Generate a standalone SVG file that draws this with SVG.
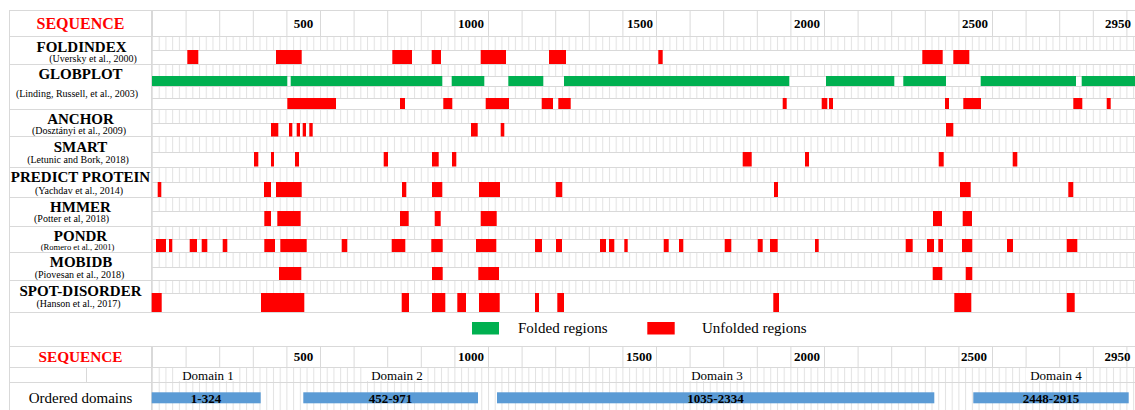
<svg xmlns="http://www.w3.org/2000/svg" width="1135" height="410" viewBox="0 0 1135 410">
<defs>
<style>
.ln{stroke:#d9d9d9;stroke-width:1;fill:none}
.r{fill:#ff0000}
.gr{fill:#00b050}
.b{fill:#5b9bd5}
.w{fill:#ffffff}
text{font-family:"Liberation Serif","Times New Roman",serif;fill:#000}
.h{font-weight:bold;font-size:15px;text-anchor:middle}
.s{font-size:10px;text-anchor:middle}
.n{font-weight:bold;font-size:13px;text-anchor:middle}
.seq{font-weight:bold;font-size:16px;fill:#ff0000;text-anchor:middle}
.dm{font-size:13px;text-anchor:middle}
.lg{font-size:15px}
</style>
<pattern id="sub" x="152" y="0" width="6.72" height="20" patternUnits="userSpaceOnUse">
<rect x="0" y="0" width="1" height="20" fill="#e2e2e2"/>
</pattern>
<pattern id="maj" x="152" y="0" width="33.6" height="20" patternUnits="userSpaceOnUse">
<rect x="0" y="0" width="1" height="20" fill="#d9d9d9"/>
</pattern>
</defs>
<rect x="0" y="0" width="1135" height="410" fill="#ffffff"/>

<g id="grid">
<rect x="152" y="36" width="983" height="276" fill="url(#sub)"/>
<rect x="152" y="10" width="983" height="26" fill="url(#maj)"/>
<rect x="152" y="346" width="983" height="21" fill="url(#maj)"/>
<rect x="152" y="367" width="983" height="43" fill="url(#sub)"/>
<g class="w">
<rect x="153" y="51" width="982" height="13"/>
<rect x="153" y="77" width="982" height="9"/>
<rect x="153" y="99" width="982" height="10"/>
<rect x="153" y="124" width="982" height="12"/>
<rect x="153" y="153" width="982" height="14"/>
<rect x="153" y="183" width="982" height="14"/>
<rect x="153" y="212" width="982" height="14"/>
<rect x="153" y="240" width="982" height="12"/>
<rect x="153" y="268" width="982" height="12"/>
<rect x="153" y="294" width="982" height="18"/>
<rect x="178" y="368" width="60" height="13"/>
<rect x="367" y="368" width="60" height="13"/>
<rect x="687" y="368" width="60" height="13"/>
<rect x="1026" y="368" width="60" height="13"/>
</g>
<path class="ln" d="M9 10.5H1135M9 36.5H1135M152 50.5H1135M9 64.5H1135M152 76.5H1135M152 86.5H1135M152 98.5H1135M9 109.5H1135M152 123.5H1135M9 136.5H1135M152 152.5H1135M9 167.5H1135M152 182.5H1135M9 197.5H1135M152 211.5H1135M9 226.5H1135M152 239.5H1135M9 252.5H1135M152 267.5H1135M9 280.5H1135M152 293.5H1135M9 312.5H1135M9 346.5H1135M9 367.5H1135M9 382.5H1135"/>
<path class="ln" d="M9.5 10V410M151.5 10V312M151.5 346V410M86.5 367V382"/>
</g>

<g id="header-top">
<text class="seq" x="80.5" y="29">SEQUENCE</text>
<text class="n" x="303.5" y="28">500</text>
<text class="n" x="471" y="28">1000</text>
<text class="n" x="640" y="28">1500</text>
<text class="n" x="807" y="28">2000</text>
<text class="n" x="975" y="28">2500</text>
<text class="n" x="1118" y="28">2950</text>
</g>

<g id="foldindex">
<text class="h" x="81.5" y="51.5">FOLDINDEX</text>
<text class="s" x="93" y="62">(Uversky et al., 2000)</text>
<g class="r">
<rect x="187.3" y="50" width="11" height="14"/><rect x="276" y="50" width="25.7" height="14"/><rect x="392.3" y="50" width="19.7" height="14"/><rect x="431.7" y="50" width="9.3" height="14"/><rect x="480.7" y="50" width="25.3" height="14"/><rect x="549" y="50" width="17" height="14"/><rect x="658.3" y="50" width="4.4" height="14"/><rect x="922.3" y="50" width="20.4" height="14"/><rect x="953.3" y="50" width="16" height="14"/>
</g>
</g>

<g id="globplot">
<text class="h" x="80.5" y="79.3">GLOBPLOT</text>
<text class="s" x="77" y="96.7">(Linding,  Russell, et al., 2003)</text>
<g class="gr">
<rect x="152" y="76" width="135.3" height="10"/><rect x="290.7" y="76" width="151.6" height="10"/><rect x="451.7" y="76" width="32.6" height="10"/><rect x="508.3" y="76" width="35" height="10"/><rect x="564" y="76" width="225.3" height="10"/><rect x="826" y="76" width="68.3" height="10"/><rect x="903.3" y="76" width="42.7" height="10"/><rect x="980.7" y="76" width="95.3" height="10"/><rect x="1081.7" y="76" width="53.3" height="10"/>
</g>
<g class="r">
<rect x="287.3" y="98" width="48.7" height="11"/><rect x="400" y="98" width="5" height="11"/><rect x="443.3" y="98" width="9" height="11"/><rect x="485.7" y="98" width="23.3" height="11"/><rect x="541.7" y="98" width="11.3" height="11"/><rect x="558.3" y="98" width="12.4" height="11"/><rect x="782.7" y="98" width="4" height="11"/><rect x="821.7" y="98" width="5.6" height="11"/><rect x="829" y="98" width="4" height="11"/><rect x="945" y="98" width="4" height="11"/><rect x="963.3" y="98" width="17.7" height="11"/><rect x="1073.3" y="98" width="9" height="11"/><rect x="1106.7" y="98" width="4" height="11"/>
</g>
</g>

<g id="anchor">
<text class="h" x="80.5" y="123.7">ANCHOR</text>
<text class="s" x="79" y="134.3">(Dosztányi et al., 2009)</text>
<g class="r">
<rect x="271" y="123" width="7.3" height="13.5"/><rect x="289" y="123" width="3.3" height="13.5"/><rect x="296.7" y="123" width="3.3" height="13.5"/><rect x="302.7" y="123" width="3.3" height="13.5"/><rect x="309.3" y="123" width="3.4" height="13.5"/><rect x="471" y="123" width="6.7" height="13.5"/><rect x="500.7" y="123" width="3.6" height="13.5"/><rect x="946" y="123" width="7.3" height="13.5"/>
</g>
</g>

<g id="smart">
<text class="h" x="80.5" y="151.5">SMART</text>
<text class="s" x="78" y="163.3">(Letunic  and Bork, 2018)</text>
<g class="r">
<rect x="254" y="152" width="4.3" height="14.5"/><rect x="271" y="152" width="3" height="14.5"/><rect x="295" y="152" width="4" height="14.5"/><rect x="383.7" y="152" width="4.3" height="14.5"/><rect x="432" y="152" width="6.7" height="14.5"/><rect x="452" y="152" width="4.3" height="14.5"/><rect x="742.7" y="152" width="9" height="14.5"/><rect x="805" y="152" width="4" height="14.5"/><rect x="938.7" y="152" width="5" height="14.5"/><rect x="1012.7" y="152" width="4.6" height="14.5"/>
</g>
</g>

<g id="predictprotein">
<text class="h" x="80.5" y="181.5">PREDICT PROTEIN</text>
<text class="s" x="79" y="193.6">(Yachdav et al., 2014)</text>
<g class="r">
<rect x="157.7" y="182" width="3.6" height="15"/><rect x="264" y="182" width="7" height="15"/><rect x="276" y="182" width="25.7" height="15"/><rect x="402" y="182" width="4.3" height="15"/><rect x="432" y="182" width="10.3" height="15"/><rect x="479" y="182" width="21" height="15"/><rect x="555.7" y="182" width="6.6" height="15"/><rect x="774" y="182" width="4" height="15"/><rect x="960" y="182" width="10.7" height="15"/><rect x="1068.3" y="182" width="5" height="15"/>
</g>
</g>

<g id="hmmer">
<text class="h" x="80.5" y="211.6">HMMER</text>
<text class="s" x="71.5" y="222.2">(Potter et al, 2018)</text>
<g class="r">
<rect x="264.3" y="211" width="6.7" height="15"/><rect x="277.3" y="211" width="23.4" height="15"/><rect x="400" y="211" width="8.7" height="15"/><rect x="434.7" y="211" width="6" height="15"/><rect x="480.7" y="211" width="16" height="15"/><rect x="933" y="211" width="9" height="15"/><rect x="962.7" y="211" width="9.3" height="15"/>
</g>
</g>

<g id="pondr">
<text class="h" x="80.5" y="240.6">PONDR</text>
<text class="s" x="77.5" y="249.6" style="font-size:8.6px">(Romero  et al., 2001)</text>
<g class="r">
<rect x="156" y="239" width="10" height="13"/><rect x="169" y="239" width="3.3" height="13"/><rect x="189.7" y="239" width="7.3" height="13"/><rect x="201.7" y="239" width="5.6" height="13"/><rect x="222.7" y="239" width="4.6" height="13"/><rect x="264.3" y="239" width="10.7" height="13"/><rect x="280.3" y="239" width="26.4" height="13"/><rect x="341.7" y="239" width="5.6" height="13"/><rect x="391.7" y="239" width="13.6" height="13"/><rect x="431.3" y="239" width="11.4" height="13"/><rect x="476" y="239" width="20.3" height="13"/><rect x="535" y="239" width="7" height="13"/><rect x="556" y="239" width="6" height="13"/><rect x="600" y="239" width="6" height="13"/><rect x="609" y="239" width="5.3" height="13"/><rect x="624.3" y="239" width="3.4" height="13"/><rect x="663.7" y="239" width="5" height="13"/><rect x="679" y="239" width="4.3" height="13"/><rect x="724.7" y="239" width="6.6" height="13"/><rect x="757.7" y="239" width="5" height="13"/><rect x="770" y="239" width="7.7" height="13"/><rect x="815" y="239" width="3.7" height="13"/><rect x="905.7" y="239" width="7" height="13"/><rect x="927" y="239" width="7" height="13"/><rect x="938.3" y="239" width="4.7" height="13"/><rect x="962" y="239" width="10.3" height="13"/><rect x="1007" y="239" width="6" height="13"/><rect x="1066.7" y="239" width="10.6" height="13"/>
</g>
</g>

<g id="mobidb">
<text class="h" x="81" y="267.3">MOBIDB</text>
<text class="s" x="79.5" y="277.8">(Piovesan et al., 2018)</text>
<g class="r">
<rect x="279" y="267" width="22.3" height="13"/><rect x="432" y="267" width="10.7" height="13"/><rect x="478.3" y="267" width="20.7" height="13"/><rect x="932.7" y="267" width="9.6" height="13"/><rect x="965.7" y="267" width="6.6" height="13"/>
</g>
</g>

<g id="spotdisorder">
<text class="h" x="80.5" y="295.5">SPOT-DISORDER</text>
<text class="s" x="78.5" y="306.9">(Hanson et al., 2017)</text>
<g class="r">
<rect x="151.7" y="293" width="10" height="19"/><rect x="261" y="293" width="43.3" height="19"/><rect x="401.7" y="293" width="7.3" height="19"/><rect x="432" y="293" width="13.3" height="19"/><rect x="457.3" y="293" width="8.7" height="19"/><rect x="479" y="293" width="20.7" height="19"/><rect x="535" y="293" width="4" height="19"/><rect x="557.3" y="293" width="6.7" height="19"/><rect x="773.3" y="293" width="5.7" height="19"/><rect x="954.3" y="293" width="17" height="19"/><rect x="1066.7" y="293" width="8" height="19"/>
</g>
</g>

<g id="legend">
<rect class="gr" x="472" y="322" width="27" height="12.5"/>
<text class="lg" x="518" y="333.3">Folded regions</text>
<rect class="r" x="647.3" y="322" width="27.4" height="12.5"/>
<text class="lg" x="702" y="333.3">Unfolded regions</text>
</g>

<g id="header-bottom">
<text class="seq" x="80.5" y="361.7" style="font-size:15.3px">SEQUENCE</text>
<text class="n" x="303.5" y="361">500</text>
<text class="n" x="471" y="361">1000</text>
<text class="n" x="639" y="361">1500</text>
<text class="n" x="807" y="361">2000</text>
<text class="n" x="974" y="361">2500</text>
<text class="n" x="1117.5" y="361">2950</text>
</g>

<g id="ordered-domains">
<text class="lg" x="80.5" y="403.3" style="text-anchor:middle">Ordered domains</text>
<text class="dm" x="208" y="379.5">Domain 1</text>
<text class="dm" x="397" y="379.5">Domain 2</text>
<text class="dm" x="717" y="379.5">Domain 3</text>
<text class="dm" x="1056" y="379.5">Domain 4</text>
<g class="b">
<rect x="151.7" y="392.3" width="109" height="11"/>
<rect x="303.3" y="392.3" width="174.7" height="11"/>
<rect x="497" y="392.3" width="437.3" height="11"/>
<rect x="973.3" y="392.3" width="155.4" height="11"/>
</g>
<text class="n" x="206" y="402.5">1-324</text>
<text class="n" x="390.5" y="402.5">452-971</text>
<text class="n" x="715.5" y="402.5">1035-2334</text>
<text class="n" x="1051" y="402.5">2448-2915</text>
</g>
</svg>
